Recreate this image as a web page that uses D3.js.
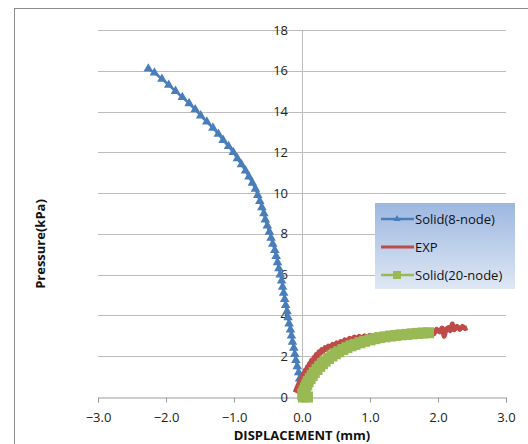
<!DOCTYPE html>
<html>
<head>
<meta charset="utf-8">
<script src="https://cdn.jsdelivr.net/npm/d3@7"></script>
<style>
  body { margin: 0; background: #fff; }
  text { font-family: "Open Sans", "Noto Sans", sans-serif; }
</style>
</head>
<body>
<div id="viz"></div>
<script>
// chart size
const width = 528;
const height = 444;

// Solid(8-node): [displacement mm, pressure kPa]
const solid8 = [
  [0.00,0.0],[-0.01,0.3],[-0.02,0.6],[-0.035,0.9],[-0.05,1.2],[-0.07,1.5],[-0.09,1.8],
  [-0.105,2.1],[-0.12,2.4],[-0.14,2.7],[-0.155,3.0],[-0.17,3.3],[-0.19,3.6],[-0.205,3.9],
  [-0.22,4.2],[-0.24,4.5],[-0.255,4.8],[-0.27,5.1],[-0.285,5.4],[-0.30,5.7],[-0.32,6.0],
  [-0.34,6.3],[-0.36,6.6],[-0.38,6.9],[-0.40,7.2],[-0.43,7.5],[-0.455,7.8],[-0.48,8.1],
  [-0.51,8.4],[-0.54,8.7],[-0.56,9.0],[-0.59,9.3],[-0.62,9.6],[-0.65,9.9],[-0.685,10.2],
  [-0.73,10.5],[-0.78,10.8],[-0.83,11.1],[-0.89,11.4],[-0.95,11.7],[-1.01,12.0],[-1.08,12.3],
  [-1.16,12.6],[-1.23,12.9],[-1.31,13.2],[-1.40,13.5],[-1.49,13.8],[-1.57,14.1],[-1.66,14.4],
  [-1.76,14.7],[-1.86,15.0],[-1.96,15.3],[-2.06,15.6],[-2.17,15.9],[-2.26,16.1]
];

// EXP (measured, noisy)
const exp = [
  [-0.10,0.22],[-0.07,0.48],[-0.08,0.40],[-0.04,0.70],[-0.05,0.62],[-0.01,0.92],[0.00,0.85],
  [0.02,1.14],[0.03,1.05],[0.05,1.32],[0.06,1.22],[0.08,1.48],[0.09,1.40],[0.11,1.64],
  [0.12,1.55],[0.14,1.80],[0.16,1.72],[0.18,1.95],[0.19,1.86],[0.21,2.08],[0.23,2.00],
  [0.25,2.22],[0.27,2.14],[0.29,2.32],[0.31,2.24],[0.34,2.42],[0.36,2.34],[0.39,2.50],
  [0.42,2.44],[0.45,2.58],[0.48,2.50],[0.51,2.65],[0.54,2.58],[0.57,2.72],[0.60,2.64],
  [0.63,2.80],[0.66,2.72],[0.70,2.88],[0.73,2.80],[0.77,2.94],[0.80,2.84],[0.84,2.97],
  [0.88,2.88],[0.92,3.00],[0.96,2.92],[1.00,3.03],[1.05,2.94],[1.10,3.05],[1.15,2.96],
  [1.20,3.08],[1.26,2.98],[1.32,3.10],[1.38,3.00],[1.45,3.12],[1.52,3.04],[1.60,3.15],
  [1.68,3.06],[1.76,3.18],[1.84,3.10],[1.90,3.26],[1.94,3.10],[1.98,3.32],[2.02,3.20],
  [2.06,3.38],[2.09,2.98],[2.12,3.32],[2.15,3.40],[2.18,3.26],[2.21,3.58],[2.24,3.30],
  [2.28,3.46],[2.32,3.32],[2.36,3.46],[2.40,3.36],[2.43,3.40]
];

// Solid(20-node)
const solid20 = [
  [0.08,0.0],[0.02,0.0],[0.01,0.15],[0.03,0.30],[0.05,0.45],[0.07,0.60],[0.09,0.75],
  [0.12,0.90],[0.15,1.05],[0.18,1.20],[0.22,1.35],[0.26,1.50],[0.30,1.63],[0.34,1.76],
  [0.39,1.89],[0.44,2.01],[0.49,2.12],[0.54,2.22],[0.60,2.33],[0.66,2.42],[0.72,2.51],
  [0.78,2.58],[0.85,2.66],[0.92,2.73],[1.00,2.80],[1.07,2.86],[1.14,2.91],[1.22,2.95],
  [1.30,2.99],[1.38,3.02],[1.46,3.05],[1.54,3.07],[1.62,3.10],[1.70,3.12],[1.78,3.14],
  [1.86,3.15]
];

const xTicks = [-3, -2, -1, 0, 1, 2, 3];
const yTicks = [0, 2, 4, 6, 8, 10, 12, 14, 16, 18];
const seriesNames = ["Solid(8-node)", "EXP", "Solid(20-node)"];
const colors = ["#4a7ebb", "#be4b48", "#98b954"];

const svg = d3.select("#viz").append("svg")
  .attr("width", width)
  .attr("height", height);

// outer chart border
svg.append("rect")
  .attr("x", 14.5).attr("y", 8.5)
  .attr("width", 700).attr("height", 700)
  .attr("fill", "none")
  .attr("stroke", "#8c8c8c");

const x = d3.scaleLinear().domain([-3, 3]).range([98, 506]);
const y = d3.scaleLinear().domain([0, 18]).range([397, 30]);

// horizontal gridlines
svg.append("g").selectAll("line")
  .data(yTicks.filter(d => d > 0))
  .join("line")
  .attr("x1", x(-3)).attr("x2", x(3))
  .attr("y1", d => Math.round(y(d)) + 0.5).attr("y2", d => Math.round(y(d)) + 0.5)
  .attr("stroke", "#bcbcbc");

// vertical axis at x=0
svg.append("line")
  .attr("x1", Math.round(x(0)) + 0.5).attr("x2", Math.round(x(0)) + 0.5)
  .attr("y1", y(18)).attr("y2", y(0))
  .attr("stroke", "#bcbcbc");

// x axis
const xAxis = svg.append("g")
  .attr("transform", "translate(0," + (Math.round(y(0)) + 0.5) + ")")
  .call(d3.axisBottom(x).tickValues(xTicks).tickSize(5).tickPadding(10).tickFormat(d3.format(".1f")));
xAxis.select(".domain").attr("stroke", "#9a9a9a");
xAxis.selectAll(".tick line").attr("stroke", "#9a9a9a");
xAxis.selectAll("text").style("font-size", "13px").attr("fill", "#222");

// y tick labels sit just left of the x=0 axis
svg.append("g").selectAll("text")
  .data(yTicks)
  .join("text")
  .attr("x", x(0) - 14)
  .attr("y", d => y(d))
  .attr("dy", "0.35em")
  .attr("text-anchor", "end")
  .style("font-size", "13px")
  .attr("fill", "#222")
  .text(d => d);

const line = d3.line().x(d => x(d[0])).y(d => y(d[1]));

// Solid(8-node)
svg.append("path")
  .datum(solid8)
  .attr("d", line)
  .attr("fill", "none")
  .attr("stroke", colors[0])
  .attr("stroke-width", 2.5);
svg.append("g").selectAll("path")
  .data(solid8)
  .join("path")
  .attr("transform", d => "translate(" + x(d[0]) + "," + y(d[1]) + ")")
  .attr("d", d3.symbol(d3.symbolTriangle, 40))
  .attr("fill", colors[0]);

// EXP
svg.append("path")
  .datum(exp)
  .attr("d", line)
  .attr("fill", "none")
  .attr("stroke", colors[1])
  .attr("stroke-width", 5)
  .attr("stroke-linejoin", "round");

// Solid(20-node)
svg.append("path")
  .datum(solid20)
  .attr("d", line)
  .attr("fill", "none")
  .attr("stroke", colors[2])
  .attr("stroke-width", 2.5);
svg.append("g").selectAll("rect")
  .data(solid20)
  .join("rect")
  .attr("x", d => x(d[0]) - 5.5)
  .attr("y", d => y(d[1]) - 5.5)
  .attr("width", 11).attr("height", 11)
  .attr("fill", colors[2]);

// axis titles
svg.append("text")
  .attr("x", x(0)).attr("y", 440)
  .attr("text-anchor", "middle")
  .style("font-size", "13px").style("font-weight", "bold")
  .attr("fill", "#111")
  .text("DISPLACEMENT (mm)");

svg.append("text")
  .attr("transform", "translate(45,244) rotate(-90)")
  .attr("text-anchor", "middle")
  .style("font-size", "13px").style("font-weight", "bold")
  .attr("fill", "#111")
  .text("Pressure(kPa)");

// legend
const defs = svg.append("defs");
const grad = defs.append("linearGradient")
  .attr("id", "legGrad").attr("x1", 0).attr("y1", 0).attr("x2", 0).attr("y2", 1);
grad.append("stop").attr("offset", "0%").attr("stop-color", "#9cb7e0");
grad.append("stop").attr("offset", "100%").attr("stop-color", "#dfe8f4");

const legend = svg.append("g").attr("transform", "translate(375,203)");
legend.append("rect")
  .attr("width", 140).attr("height", 86)
  .attr("fill", "url(#legGrad)");

const legItems = legend.selectAll("g")
  .data(seriesNames)
  .join("g")
  .attr("transform", (d, i) => "translate(0," + (16 + i * 28) + ")");
legItems.append("line")
  .attr("x1", 6).attr("x2", 39)
  .attr("stroke", (d, i) => colors[i])
  .attr("stroke-width", (d, i) => i === 1 ? 3 : 2.5);
legItems.filter((d, i) => i === 0).append("path")
  .attr("transform", "translate(22,0)")
  .attr("d", d3.symbol(d3.symbolTriangle, 22))
  .attr("fill", colors[0]);
legItems.filter((d, i) => i === 2).append("rect")
  .attr("x", 18).attr("y", -4).attr("width", 8).attr("height", 8)
  .attr("fill", colors[2]);
legItems.append("text")
  .attr("x", 40).attr("dy", "0.35em")
  .style("font-size", "13px")
  .attr("fill", "#111")
  .text(d => d);
</script>
</body>
</html>
